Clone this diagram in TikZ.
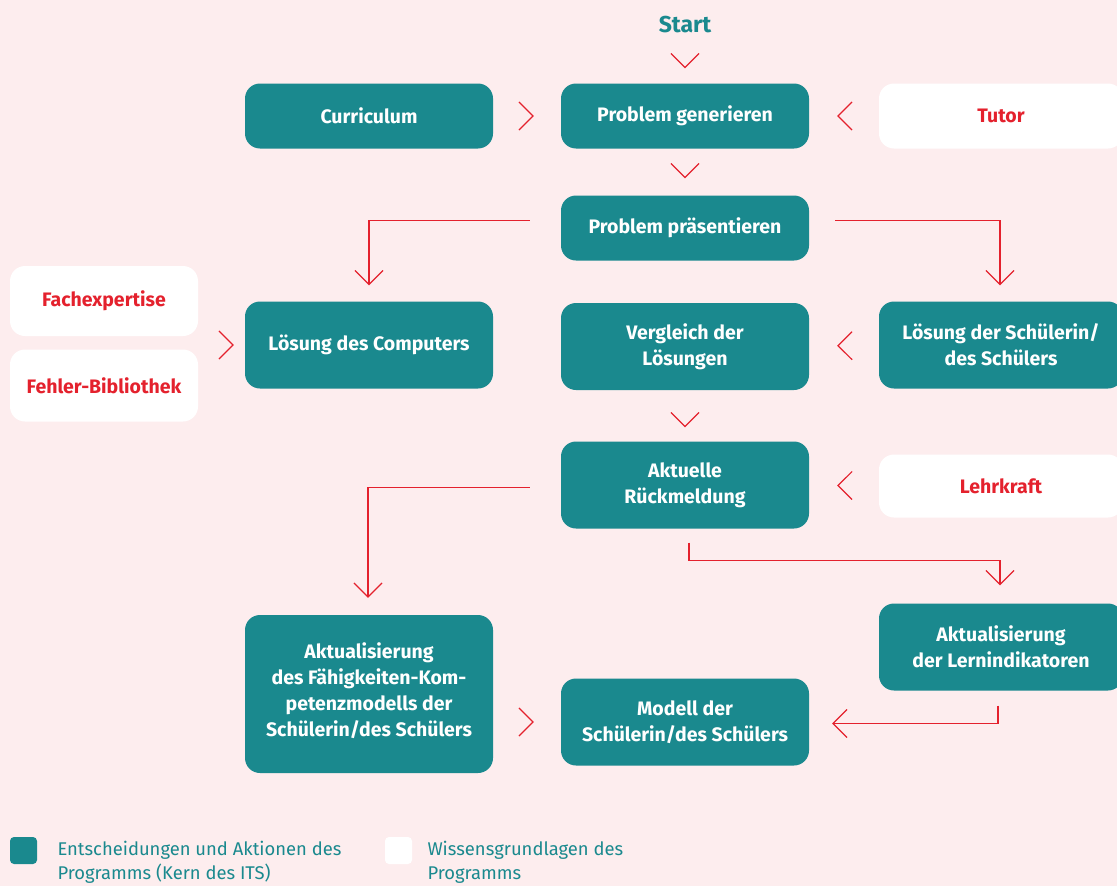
\documentclass[tikz,border=0pt]{standalone}
\usepackage{fontspec}
\setmainfont{Fira Sans}
\usetikzlibrary{arrows.meta,decorations.markings,calc}

\definecolor{itsteal}{HTML}{1A898E}
\definecolor{itsred}{HTML}{E4212D}
\definecolor{itsbg}{HTML}{FDEDEE}

\tikzset{
	core/.style={fill=itsteal, text=white, rounded corners=15pt, minimum width=248pt, inner sep=3pt, align=center, font=\fontsize{19.5}{26}\selectfont\bfseries},
	base/.style={core, fill=white, text=itsred},
	link/.style={draw=itsred, line width=1.2pt, -{Straight Barb[length=14pt,width=28pt]}},
	chevron/.style={decorate, decoration={markings, mark=at position #1 with {\arrow[itsred, line width=1.2pt]{Straight Barb[length=14pt,width=28pt]}}}},
	legend/.style={anchor=north west, align=left, text=itsteal, font=\fontsize{18.4}{24}\selectfont}
}

\begin{document}
\begin{tikzpicture}[x=1pt,y=-1pt]
	\fill[itsbg] (0,0) rectangle (1117,886);
	\useasboundingbox (0,0) rectangle (1117,886);
	\node[text=itsteal, font=\fontsize{23}{24}\selectfont\bfseries] (start) at (685,25) {Start};
	\node[core, minimum height=65pt] (curr) at (369,116) {Curriculum};
	\node[core, minimum height=65pt] (gen) at (685,116) {Problem generieren};
	\node[base, minimum width=244pt, minimum height=65pt] (tutor) at (1001,116) {Tutor};
	\node[core, minimum height=65pt] (praes) at (685,228) {Problem präsentieren};
	\node[base, minimum width=188pt, minimum height=70pt] (fach) at (104,301) {Fachexpertise};
	\node[base, minimum width=188pt, minimum height=72pt] (fehler) at (104,385.5) {Fehler-Bibliothek};
	\node[core, minimum height=87pt] (comp) at (369,345) {Lösung des Computers};
	\node[core, minimum height=87pt] (vergl) at (685,346.5) {Vergleich der\\Lösungen};
	\node[core, minimum width=244pt, minimum height=87pt] (schuel) at (1001,345) {Lösung der Schülerin/\\des Schülers};
	\node[core, minimum height=87pt] (rueck) at (685,485) {Aktuelle\\Rückmeldung};
	\node[base, minimum width=244pt, minimum height=63pt] (lehr) at (1001,486) {Lehrkraft};
	\node[core, minimum width=244pt, minimum height=87pt] (lernind) at (1001,647) {Aktualisierung\\der Lernindikatoren};
	\node[core, minimum height=158pt] (kompmod) at (369,694) {Aktualisierung\\des Fähigkeiten-Kom-\\petenzmodells der\\Schülerin/des Schülers\\[-17pt]};
	\node[core, minimum height=87pt] (modell) at (685,722) {Modell der\\Schülerin/des Schülers};
	% chevrons between neighbours
	\path[chevron=-15pt] (start) -- (gen);
	\path[chevron=-17pt] (gen) -- (praes);
	\path[chevron=-27pt] (curr) -- (gen);
	\path[chevron=-28pt] (tutor) -- (gen);
	\path[chevron=-11pt] (fach.east |- comp.west) -- (comp.west);
	\path[chevron=-28pt] (schuel) -- (vergl);
	\path[chevron=-14pt] (vergl) -- (rueck);
	\path[chevron=-28pt] (lehr) -- (rueck);
	\path[chevron=-27pt] (kompmod.east |- modell.west) -- (modell.west);
	% elbow lines
	\draw[link] ([xshift=-31pt,yshift=7.5pt]praes.west) -| ([yshift=16pt]comp.north);
	\draw[link] ([xshift=26pt,yshift=7.5pt]praes.east) -| ([xshift=-1pt,yshift=16pt]schuel.north);
	\draw[link] ([xshift=-31pt,yshift=-2.5pt]rueck.west) -| ([xshift=-1pt,yshift=17pt]kompmod.north);
	\draw[link] ([xshift=4pt,yshift=-14pt]rueck.south) -- ++(0,18) -| ([xshift=-1pt,yshift=18pt]lernind.north);
	\draw[link] ([xshift=-3pt,yshift=-15pt]lernind.south) |- ([xshift=23pt,yshift=-1.5pt]modell.east);
	% legend
	\node[fill=itsteal, rounded corners=4pt, minimum size=27pt, inner sep=0pt] (keycore) at (23.5,850.5) {};
	\node[legend] (keycoretext) at (54,838) {Entscheidungen und Aktionen des\\Programms (Kern des ITS)};
	\node[fill=white, rounded corners=4pt, minimum size=27pt, inner sep=0pt] (keybase) at (398.5,850.5) {};
	\node[legend] (keybasetext) at (424,838) {Wissensgrundlagen des\\Programms};
\end{tikzpicture}
\end{document}
